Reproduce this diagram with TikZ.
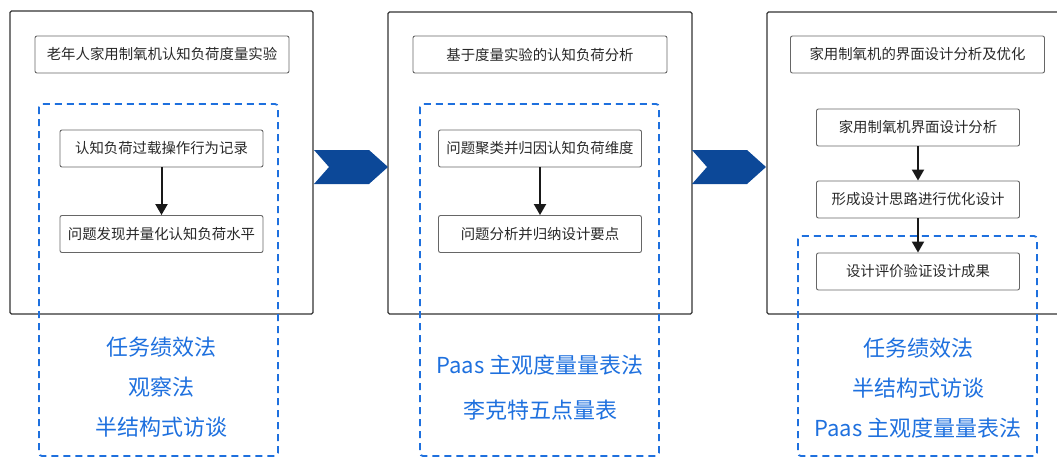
\documentclass[tikz,border=0pt]{standalone}
\usepackage{fontspec}
\setmainfont{Noto Sans CJK SC}
\usetikzlibrary{arrows.meta}
\definecolor{dblue}{RGB}{12,72,152}
\definecolor{lblue}{RGB}{30,112,222}
\definecolor{txt}{RGB}{40,40,40}
\begin{document}
\begin{tikzpicture}[x=1pt,y=-1pt,
 panel/.style={draw=black!80, line width=1.2pt, rounded corners=1.5pt},
 titlebox/.style={draw=black!60, line width=0.9pt, rounded corners=2pt, minimum width=254pt, minimum height=37pt, text=txt, font=\fontsize{14.4}{16}\selectfont, inner sep=0pt},
 stepbox/.style={draw=black!60, line width=0.9pt, rounded corners=2pt, minimum width=203pt, minimum height=37pt, text=txt, font=\fontsize{14.4}{16}\selectfont, inner sep=0pt},
 dashbox/.style={draw=lblue, line width=1.8pt, dash pattern=on 7pt off 5pt, rounded corners=3pt},
 method/.style={text=lblue, font=\fontsize{22}{25}\selectfont, inner sep=0pt},
 flow/.style={-{Triangle[length=11pt,width=12pt]}, line width=2pt, draw=black!90},
 chev/.style={fill=dblue, draw=none}]
\useasboundingbox (0,0) rectangle (1057,458);
% panels
\draw[panel] (10,11) rectangle (313,314);
\draw[panel] (388,12) rectangle (692,314);
\draw[panel] (1070,12) -- (767,12) -- (767,314) -- (1070,314);
% chevrons
\fill[chev] (314,150) -- (369,150) -- (388,167) -- (369,184) -- (314,184) -- (329,167) -- cycle;
\fill[chev] (692,150) -- (747,150) -- (766,167) -- (747,184) -- (692,184) -- (707,167) -- cycle;
% titles
\node[titlebox] (t1) at (162,54.5) {老年人家用制氧机认知负荷度量实验};
\node[titlebox] (t2) at (540,54.5) {基于度量实验的认知负荷分析};
\node[titlebox] (t3) at (917.5,54.5) {家用制氧机的界面设计分析及优化};
% steps
\node[stepbox] (a1) at (161.5,148.5) {认知负荷过载操作行为记录};
\node[stepbox] (a2) at (161.5,234) {问题发现并量化认知负荷水平};
\node[stepbox] (b1) at (540,148.5) {问题聚类并归因认知负荷维度};
\node[stepbox] (b2) at (540,234) {问题分析并归纳设计要点};
\node[stepbox] (c1) at (918,127.5) {家用制氧机界面设计分析};
\node[stepbox] (c2) at (918,199.5) {形成设计思路进行优化设计};
\node[stepbox] (c3) at (918,271.5) {设计评价验证设计成果};
\draw[flow] (a1) -- (a2);
\draw[flow] (b1) -- (b2);
\draw[flow] (c1) -- (c2);
\draw[flow] (c2) -- (c3);
% dashed groups
\draw[dashbox] (39,104) rectangle (278,456);
\draw[dashbox] (420,104) rectangle (659,456);
\draw[dashbox] (798,236) rectangle (1037,456);
% methods
\node[method] (m11) at (161,347) {任务绩效法};
\node[method] (m12) at (161,387) {观察法};
\node[method] (m13) at (161,427) {半结构式访谈};
\node[method] (m21) at (540,365) {Paas 主观度量量表法};
\node[method] (m22) at (540,410) {李克特五点量表};
\node[method] (m31) at (918,348) {任务绩效法};
\node[method] (m32) at (918,388) {半结构式访谈};
\node[method] (m33) at (918,428) {Paas 主观度量量表法};
\end{tikzpicture}
\end{document}
